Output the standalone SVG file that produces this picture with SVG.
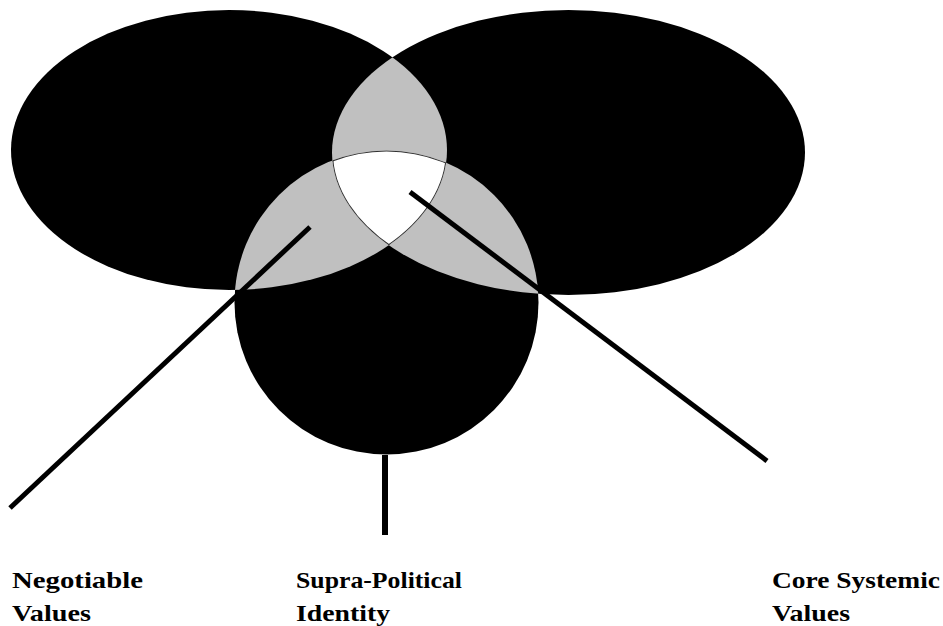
<svg xmlns="http://www.w3.org/2000/svg" width="943" height="626" viewBox="0 0 943 626">
  <style>
    .blk { fill: #000; }
    .gray { fill: #c0c0c0; }
    .wht { fill: #fff; }
    .edge { fill: none; stroke: #333; stroke-width: 2; }
    .conn { stroke: #000; stroke-width: 5; fill: none; }
    .lbl { font-family: "Liberation Serif", "Times New Roman", serif; font-weight: bold; font-size: 24px; fill: #000; }
  </style>
  <defs>
    <ellipse id="eL" cx="229" cy="150" rx="218" ry="140"/>
    <ellipse id="eR" cx="568.5" cy="152.5" rx="236.5" ry="142.5"/>
    <circle id="eB" cx="386.5" cy="302.5" r="152"/>
    <clipPath id="clipL"><use href="#eL"/></clipPath>
    <clipPath id="clipR"><use href="#eR"/></clipPath>
    <clipPath id="clipB"><use href="#eB"/></clipPath>
  </defs>
  <rect width="943" height="626" fill="#fff"/>

  <g id="node-negotiable">
    <use href="#eL" class="blk"/>
  </g>
  <g id="node-core">
    <use href="#eR" class="blk"/>
  </g>
  <g id="node-supra">
    <use href="#eB" class="blk"/>
  </g>

  <g id="overlaps">
    <use href="#eR" class="gray" clip-path="url(#clipL)"/>
    <use href="#eB" class="gray" clip-path="url(#clipL)"/>
    <use href="#eB" class="gray" clip-path="url(#clipR)"/>
    <g clip-path="url(#clipL)">
      <g clip-path="url(#clipR)">
        <use href="#eB" class="wht"/>
        <g clip-path="url(#clipB)">
          <use href="#eL" class="edge"/>
          <use href="#eR" class="edge"/>
          <use href="#eB" class="edge"/>
        </g>
      </g>
    </g>
  </g>

  <g id="connectors">
    <line class="conn" x1="310" y1="227" x2="10" y2="508"/>
    <line class="conn" x1="385" y1="455" x2="385" y2="535" style="stroke-width:6"/>
    <line class="conn" x1="410" y1="192" x2="767" y2="461"/>
  </g>

  <g id="labels">
    <text class="lbl" x="12" y="588" textLength="131" lengthAdjust="spacingAndGlyphs">Negotiable</text>
    <text class="lbl" x="12" y="621" textLength="79" lengthAdjust="spacingAndGlyphs">Values</text>
    <text class="lbl" x="296" y="588" textLength="166" lengthAdjust="spacingAndGlyphs">Supra-Political</text>
    <text class="lbl" x="296" y="621" textLength="94" lengthAdjust="spacingAndGlyphs">Identity</text>
    <text class="lbl" x="772" y="588" textLength="168" lengthAdjust="spacingAndGlyphs">Core Systemic</text>
    <text class="lbl" x="772" y="621" textLength="78" lengthAdjust="spacingAndGlyphs">Values</text>
  </g>
</svg>
